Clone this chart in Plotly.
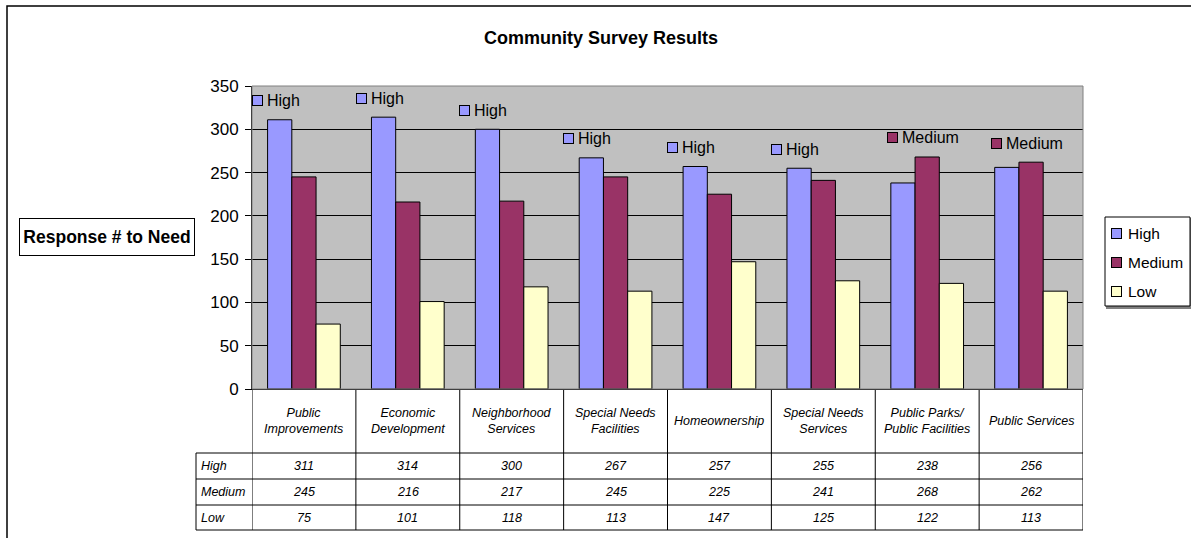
import plotly.graph_objects as go

categories = ["Public<br>Improvements", "Economic<br>Development", "Neighborhood<br>Services",
              "Special Needs<br>Facilities", "Homeownership", "Special Needs<br>Services",
              "Public Parks/<br>Public Facilities", "Public Services"]
series_names = ["High", "Medium", "Low"]
high = [311, 314, 300, 267, 257, 255, 238, 256]
medium = [245, 216, 217, 245, 225, 241, 268, 262]
low = [75, 101, 118, 113, 147, 125, 122, 113]
y_ticks = [0, 50, 100, 150, 200, 250, 300, 350]

colors = ["#9999FF", "#993366", "#FFFFCC"]
series_values = [high, medium, low]

W, H = 1191, 538
L, R, T, B = 252, 1083, 86, 389
PW, PH = R - L, B - T


def px_x(px):
    return (px - L) / PW


def px_y(py):
    return (B - py) / PH


FONT = "Liberation Sans, Arial, sans-serif"
n = len(categories)
xidx = list(range(n))

fig = go.Figure()
for name, vals, col in zip(series_names, series_values, colors):
    fig.add_trace(go.Bar(
        x=xidx, y=vals, name=name, legendgroup=name, showlegend=False,
        marker=dict(color=col, line=dict(color="black", width=1)),
        hoverinfo="skip",
    ))

annotations = []
shapes = []

# Peak labels: series name of the maximum value, above that series' bar
group_px = PW / n
bargap = 0.3
bar_px = group_px * (1 - bargap) / 3
text_w = {"High": 33, "Medium": 57}
for i in range(n):
    vals = [s[i] for s in series_values]
    k = max(range(3), key=lambda j: vals[j])
    name = series_names[k]
    shift = (k - 1) * bar_px
    total = 12 + 5 + text_w.get(name, 40)
    left = shift - total / 2 - 4
    yv = vals[k] + 22
    annotations.append(dict(x=i, y=yv, xref="x", yref="y", text="", showarrow=False,
                            width=9, height=9, bgcolor=colors[k], bordercolor="black",
                            borderwidth=1, borderpad=0, xanchor="left", yanchor="middle",
                            xshift=left + 1))
    annotations.append(dict(x=i, y=yv, xref="x", yref="y", text=name, showarrow=False,
                            font=dict(family=FONT, size=16, color="black"),
                            xanchor="left", yanchor="middle", xshift=left + 14))

# Data table below the plot
row_lines = [453, 479, 505, 530]
for py in row_lines:
    shapes.append(dict(type="line", xref="paper", yref="paper", x0=px_x(196), x1=1,
                       y0=px_y(py), y1=px_y(py), line=dict(color="black", width=1)))
for k in range(n + 1):
    shapes.append(dict(type="line", xref="x", yref="paper", x0=k - 0.5, x1=k - 0.5,
                       y0=0, y1=px_y(530), line=dict(color="black", width=1)))
shapes.append(dict(type="line", xref="paper", yref="paper", x0=px_x(196), x1=px_x(196),
                   y0=px_y(453), y1=px_y(530), line=dict(color="black", width=1)))

header_c = (389 + 453) / 2
row_c = [(453 + 479) / 2, (479 + 505) / 2, (505 + 530) / 2]
for i, c in enumerate(categories):
    annotations.append(dict(x=i, y=px_y(header_c), xref="x", yref="paper",
                            text="<i>" + c + "</i>", showarrow=False,
                            font=dict(family=FONT, size=12.5, color="black"),
                            xanchor="center", yanchor="middle"))
for r, (name, vals) in enumerate(zip(series_names, series_values)):
    annotations.append(dict(x=px_x(199), y=px_y(row_c[r]), xref="paper", yref="paper",
                            text="<i>" + name + "</i>", showarrow=False,
                            font=dict(family=FONT, size=12.5, color="black"),
                            xanchor="left", yanchor="middle"))
    for i, v in enumerate(vals):
        annotations.append(dict(x=i, y=px_y(row_c[r]), xref="x", yref="paper",
                                text="<i>" + str(v) + "</i>", showarrow=False,
                                font=dict(family=FONT, size=12.5, color="black"),
                                xanchor="center", yanchor="middle"))

# Axis title box
annotations.append(dict(x=px_x(106.5), y=px_y(237), xref="paper", yref="paper",
                        text="<b>Response # to Need</b>", showarrow=False,
                        font=dict(family=FONT, size=17.5, color="black"),
                        width=170, height=32, align="center",
                        bordercolor="black", borderwidth=1, borderpad=2,
                        xanchor="center", yanchor="middle"))

# Legend box (drawn manually, Excel style)
shapes.append(dict(type="rect", xref="paper", yref="paper", x0=px_x(1107), x1=px_x(1192),
                   y0=px_y(308), y1=px_y(219), line=dict(color="#808080", width=2),
                   fillcolor="#808080", layer="above"))
shapes.append(dict(type="rect", xref="paper", yref="paper", x0=px_x(1105), x1=px_x(1190),
                   y0=px_y(306), y1=px_y(217), line=dict(color="black", width=1),
                   fillcolor="white", layer="above"))
leg_y = [233, 262, 291]
for name, col, py in zip(series_names, colors, leg_y):
    annotations.append(dict(x=px_x(1111), y=px_y(py), xref="paper", yref="paper", text="",
                            showarrow=False, width=9, height=9, bgcolor=col,
                            bordercolor="black", borderwidth=1, borderpad=0,
                            xanchor="left", yanchor="middle"))
    annotations.append(dict(x=px_x(1126), y=px_y(py), xref="paper", yref="paper", text=name,
                            showarrow=False, font=dict(family=FONT, size=15.5, color="black"),
                            xanchor="left", yanchor="middle"))

# Plot area border (top/right grey)
shapes.append(dict(type="rect", xref="paper", yref="paper", x0=0, x1=1, y0=0, y1=1,
                   line=dict(color="#808080", width=1), layer="above"))
# Outer chart border
shapes.append(dict(type="rect", xref="paper", yref="paper", x0=px_x(7), x1=px_x(1200),
                   y0=px_y(545), y1=px_y(6), line=dict(color="black", width=1.5)))

fig.update_layout(
    width=W, height=H,
    margin=dict(l=L, r=W - R, t=T, b=H - B, autoexpand=False),
    paper_bgcolor="white", plot_bgcolor="#C0C0C0",
    title=dict(text="<b>Community Survey Results</b>", x=(601) / W, xanchor="center",
               y=1 - 38 / H, yanchor="middle",
               font=dict(family=FONT, size=18, color="black")),
    barmode="group", bargap=bargap, bargroupgap=0,
    showlegend=False,
    xaxis=dict(range=[-0.5, n - 0.5], showticklabels=False, showgrid=False,
               zeroline=False, showline=True, linecolor="black", linewidth=1,
               ticks="", fixedrange=True),
    yaxis=dict(range=[0, 350], tickvals=y_ticks, showgrid=True, gridcolor="black",
               gridwidth=1, zeroline=False, showline=True, linecolor="black",
               linewidth=1, ticks="outside", ticklen=6, tickcolor="black",
               ticklabelstandoff=3,
               tickfont=dict(family=FONT, size=17, color="black"), fixedrange=True),
    annotations=annotations, shapes=shapes,
)

fig.write_html("out.html", config={"displayModeBar": False},
               post_script="document.body.style.margin='0';document.body.style.overflow='hidden';")
